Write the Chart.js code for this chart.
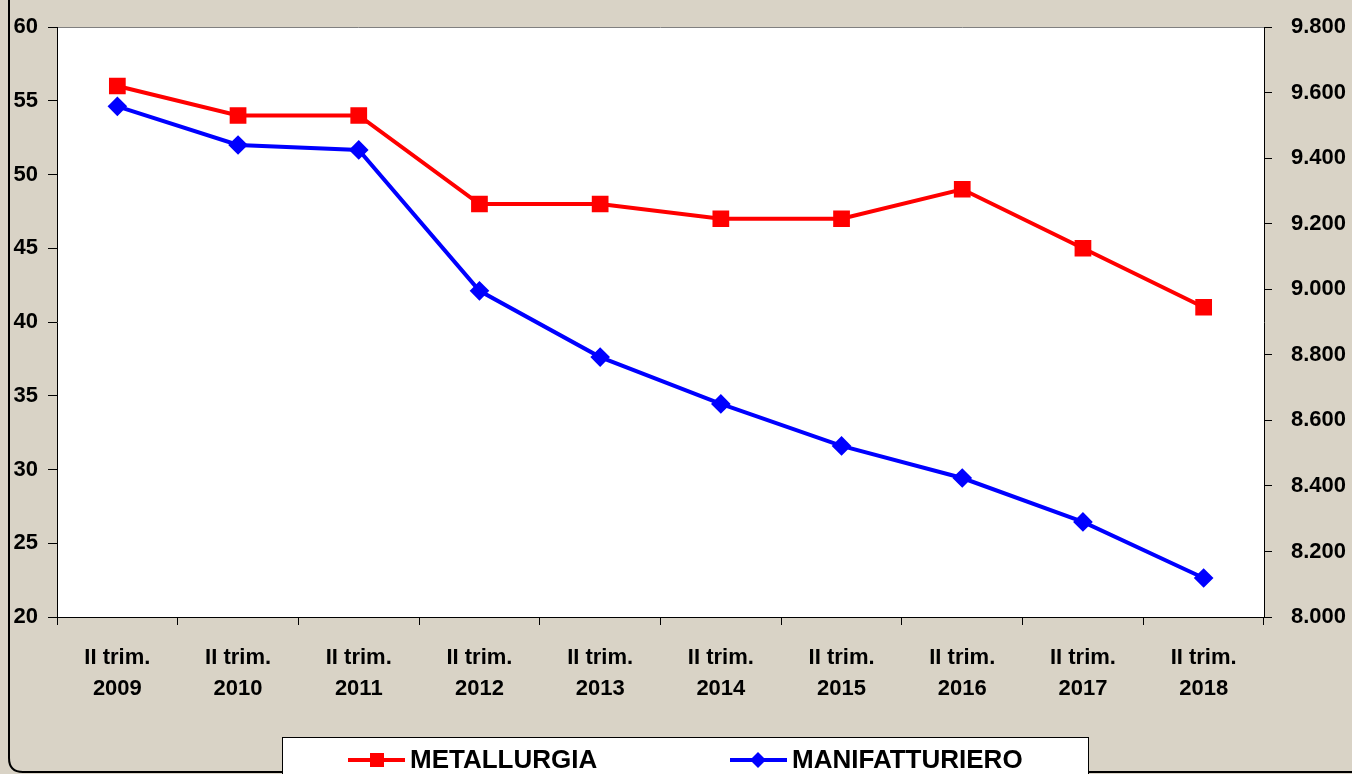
<!DOCTYPE html>
<html lang="it">
<head>
<meta charset="UTF-8">
<title>Metallurgia e Manifatturiero</title>
<script src="https://cdn.jsdelivr.net/npm/chart.js"></script>
<style>
  body { margin: 0; padding: 0; background: #D9D3C6; }
  #wrap { width: 1352px; height: 774px; position: relative; }
</style>
</head>
<body>
<div id="wrap"><canvas id="grafico"></canvas></div>
<script>
// categorie (asse x)
var trimestri = [
  ['II trim.', '2009'], ['II trim.', '2010'], ['II trim.', '2011'], ['II trim.', '2012'],
  ['II trim.', '2013'], ['II trim.', '2014'], ['II trim.', '2015'], ['II trim.', '2016'],
  ['II trim.', '2017'], ['II trim.', '2018']
];
// serie (asse sinistro)
var metallurgia = [56, 54, 54, 48, 48, 47, 47, 49, 45, 41];
// serie (asse destro)
var manifatturiero = [9558, 9440, 9425, 8995, 8793, 8650, 8522, 8424, 8290, 8119];

var ctx = document.getElementById('grafico').getContext('2d');

function formatoIt(v) {
  return String(v).replace(/\B(?=(\d{3})+(?!\d))/g, '.');
}

// sfondo bianco area grafico + bordo superiore grigio
var areaBianca = {
  id: 'areaBianca',
  beforeDraw: function(chart) {
    var a = chart.chartArea, c = chart.ctx;
    c.save();
    c.fillStyle = '#ffffff';
    c.fillRect(a.left, a.top, a.right - a.left, a.bottom - a.top);
    c.strokeStyle = '#808080';
    c.lineWidth = 1;
    c.beginPath();
    c.moveTo(a.left, a.top + 0.5);
    c.lineTo(a.right, a.top + 0.5);
    c.stroke();
    // cornice arrotondata
    c.strokeStyle = '#000';
    c.lineWidth = 2;
    c.beginPath();
    c.moveTo(9, -5);
    c.lineTo(9, 758);
    c.quadraticCurveTo(9, 772, 23, 772);
    c.lineTo(1360, 772);
    c.stroke();
    c.restore();
  }
};

// legenda in basso con riquadro
var legendaBox = {
  id: 'legendaBox',
  afterDraw: function(chart) {
    var c = chart.ctx;
    c.save();
    c.fillStyle = '#ffffff';
    c.fillRect(282, 737, 806, 50);
    c.strokeStyle = '#000';
    c.lineWidth = 1;
    c.strokeRect(282.5, 737.5, 806, 50);
    var pos = [348, 730];
    chart.data.datasets.forEach(function(ds, i) {
      var x = pos[i], y = 760;
      c.strokeStyle = ds.borderColor;
      c.lineWidth = 4;
      c.beginPath();
      c.moveTo(x, y);
      c.lineTo(x + 57, y);
      c.stroke();
      c.fillStyle = ds.borderColor;
      c.beginPath();
      if (ds.pointStyle === 'rect') {
        c.rect(x + 22, y - 7, 14, 14);
      } else {
        c.moveTo(x + 28, y - 8); c.lineTo(x + 36, y); c.lineTo(x + 28, y + 8); c.lineTo(x + 20, y);
        c.closePath();
      }
      c.fill();
      c.fillStyle = '#000';
      c.font = 'bold 26px Arial, "Liberation Sans", sans-serif';
      c.textBaseline = 'middle';
      c.fillText(ds.label, x + 62, y + 1);
    });
    c.restore();
  }
};

var grafico = new Chart(ctx, {
  type: 'line',
  data: {
    labels: trimestri,
    datasets: [{
      label: 'METALLURGIA',
      data: metallurgia,
      borderColor: '#FF0000',
      backgroundColor: '#FF0000',
      borderWidth: 4,
      pointStyle: 'rect',
      pointRadius: 9,
      pointHoverRadius: 9,
      tension: 0,
      yAxisID: 'ySx'
    }, {
      label: 'MANIFATTURIERO',
      data: manifatturiero,
      borderColor: '#0000FF',
      backgroundColor: '#0000FF',
      borderWidth: 4,
      pointStyle: 'rectRot',
      pointRadius: 7,
      pointHoverRadius: 7,
      tension: 0,
      yAxisID: 'yDx'
    }]
  },
  options: {
    responsive: true,
    maintainAspectRatio: false,
    animation: false,
    layout: { padding: { top: 27, bottom: 0, left: 0, right: 0 } },
    plugins: {
      legend: { display: false },
      tooltip: { enabled: false }
    },
    scales: {
      x: {
        offset: true,
        grid: { offset: true, drawOnChartArea: false, tickLength: 8, color: '#000' },
        border: { color: '#000', width: 1 },
        ticks: {
          color: '#000',
          maxRotation: 0,
          padding: 18,
          font: { family: 'Arial, "Liberation Sans", sans-serif', size: 22, weight: 'bold', lineHeight: 1.4 }
        },
        afterFit: function(s) { s.height = 157; }
      },
      ySx: {
        position: 'left',
        min: 20, max: 60,
        ticks: {
          stepSize: 5, color: '#000', padding: 10,
          font: { family: 'Arial, "Liberation Sans", sans-serif', size: 22, weight: 'bold' }
        },
        grid: { drawOnChartArea: false, tickLength: 9, color: '#000' },
        border: { color: '#000', width: 1 },
        afterFit: function(s) { s.width = 57; s.paddingTop = 0; s.paddingBottom = 0; }
      },
      yDx: {
        position: 'right',
        min: 8000, max: 9800,
        ticks: {
          stepSize: 200, color: '#000', padding: 19,
          font: { family: 'Arial, "Liberation Sans", sans-serif', size: 22, weight: 'bold' },
          callback: function(v) { return formatoIt(v); }
        },
        grid: { drawOnChartArea: false, tickLength: 8, color: '#000' },
        border: { color: '#000', width: 1 },
        afterFit: function(s) { s.width = 88; s.paddingTop = 0; s.paddingBottom = 0; }
      }
    }
  },
  plugins: [areaBianca, legendaBox]
});
</script>
</body>
</html>
